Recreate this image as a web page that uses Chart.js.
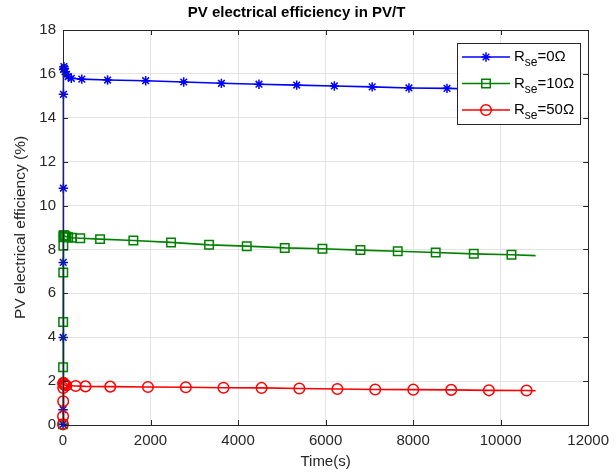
<!DOCTYPE html>
<html>
<head>
<meta charset="utf-8">
<script src="https://cdn.jsdelivr.net/npm/chart.js@4.4.0/dist/chart.umd.min.js"></script>
<style>
  html, body { margin: 0; padding: 0; background: #fff; }
</style>
</head>
<body>
<canvas id="myChart" width="616" height="472"></canvas>
<script>
// data (time in s, efficiency in %)
const blueTime = [0, 2, 4, 6, 8, 10, 14, 20, 30, 50, 80, 120, 190, 430, 1019, 1889, 2759, 3620, 4478, 5340, 6200, 7065, 7905, 8775, 10800];
const blueEff = [0.03, 0.70, 3.99, 7.41, 10.79, 15.07, 16.20, 16.33, 16.25, 16.10, 15.98, 15.88, 15.80, 15.76, 15.72, 15.69, 15.63, 15.57, 15.53, 15.49, 15.45, 15.41, 15.36, 15.34, 15.24];

const greenTime = [0, 2, 4, 6, 8, 10, 14, 20, 30, 50, 80, 120, 204, 394, 847, 1608, 2469, 3338, 4199, 5067, 5928, 6796, 7649, 8517, 9387, 10248, 10800];
const greenEff = [0.03, 2.63, 4.69, 6.95, 8.17, 8.59, 8.65, 8.64, 8.62, 8.60, 8.58, 8.56, 8.53, 8.51, 8.47, 8.41, 8.32, 8.21, 8.15, 8.07, 8.03, 7.97, 7.92, 7.86, 7.80, 7.76, 7.72];

const redTime = [0, 2, 4, 6, 8, 10, 14, 20, 30, 50, 75, 290, 514, 1080, 1941, 2806, 3668, 4538, 5400, 6270, 7134, 8004, 8871, 9733, 10593, 10800];
const redEff = [0.03, 0.40, 1.08, 1.69, 1.88, 1.92, 1.90, 1.87, 1.84, 1.82, 1.80, 1.78, 1.76, 1.75, 1.73, 1.72, 1.70, 1.69, 1.66, 1.64, 1.62, 1.61, 1.60, 1.58, 1.57, 1.56];

const seriesNames = ['0Ω', '10Ω', '50Ω'];
const xTicks = [0, 2000, 4000, 6000, 8000, 10000, 12000];
const yTicks = [0, 2, 4, 6, 8, 10, 12, 14, 16, 18];

const axisColor = '#262626';
const fontName = '"Liberation Sans", Arial, Helvetica, sans-serif';

function toPoints(times, values) {
  return times.map((t, i) => ({ x: t, y: values[i] }));
}
function radii(times, r) {
  // no marker on the last simulated point
  return times.map((t, i) => i === times.length - 1 ? 0 : r);
}

// small marker painter for the legend
function drawMarker(ctx, style, x, y, r, color) {
  ctx.save();
  ctx.strokeStyle = color;
  ctx.lineWidth = 1.5;
  ctx.beginPath();
  if (style === 'star') {
    ctx.moveTo(x - r, y); ctx.lineTo(x + r, y);
    ctx.moveTo(x, y - r); ctx.lineTo(x, y + r);
    const d = r * Math.SQRT1_2;
    ctx.moveTo(x - d, y - d); ctx.lineTo(x + d, y + d);
    ctx.moveTo(x - d, y + d); ctx.lineTo(x + d, y - d);
  } else if (style === 'rect') {
    const s = r * Math.SQRT1_2;
    ctx.rect(x - s, y - s, 2 * s, 2 * s);
  } else {
    ctx.arc(x, y, r, 0, Math.PI * 2);
  }
  ctx.stroke();
  ctx.restore();
}

// box, inward ticks and the matlab-like legend
const frameAndLegend = {
  id: 'frameAndLegend',
  afterDatasetsDraw(chart) {
    const ctx = chart.ctx;
    const { left, right, top, bottom } = chart.chartArea;
    const xs = chart.scales.x, ys = chart.scales.y;
    ctx.save();
    ctx.strokeStyle = axisColor;
    ctx.lineWidth = 1;
    ctx.beginPath();
    xTicks.forEach(v => {
      const px = Math.round(xs.getPixelForValue(v)) + 0.5;
      ctx.moveTo(px, bottom); ctx.lineTo(px, bottom - 5);
      ctx.moveTo(px, top); ctx.lineTo(px, top + 5);
    });
    yTicks.forEach(v => {
      const py = Math.round(ys.getPixelForValue(v)) + 0.5;
      ctx.moveTo(left, py); ctx.lineTo(left + 5, py);
      ctx.moveTo(right, py); ctx.lineTo(right - 5, py);
    });
    ctx.stroke();
    ctx.strokeRect(Math.round(left) + 0.5, Math.round(top) + 0.5, Math.round(right - left), Math.round(bottom - top));

    // legend
    const bx = 457, by = 43, bw = 123, bh = 81;
    ctx.fillStyle = '#fff';
    ctx.fillRect(bx, by, bw, bh);
    ctx.strokeRect(bx + 0.5, by + 0.5, bw, bh);
    chart.data.datasets.forEach((ds, i) => {
      const y = by + 14 + i * 26.5;
      ctx.strokeStyle = ds.borderColor;
      ctx.lineWidth = 1.5;
      ctx.beginPath();
      ctx.moveTo(462, y); ctx.lineTo(510, y);
      ctx.stroke();
      drawMarker(ctx, ds.pointStyle, 486, y, ds.pointStyle === 'star' ? 4.7 : (ds.pointStyle === 'rect' ? 6 : 5.3), ds.borderColor);
      ctx.fillStyle = '#000';
      ctx.textBaseline = 'middle';
      ctx.textAlign = 'left';
      ctx.font = '15px ' + fontName;
      ctx.fillText('R', 514, y);
      let x = 514 + ctx.measureText('R').width;
      ctx.font = '12px ' + fontName;
      ctx.fillText('se', x, y + 6);
      x += ctx.measureText('se').width;
      ctx.font = '15px ' + fontName;
      ctx.fillText('=' + seriesNames[i], x, y);
    });
    ctx.restore();
  }
};

const data = {
  datasets: [
    {
      label: 'Rse=' + seriesNames[0],
      data: toPoints(blueTime, blueEff),
      borderColor: '#0000ff',
      backgroundColor: 'transparent',
      pointStyle: 'star',
      pointRadius: radii(blueTime, 4.7),
      pointBorderWidth: 1.5,
      borderWidth: 1.6,
      order: 3
    },
    {
      label: 'Rse=' + seriesNames[1],
      data: toPoints(greenTime, greenEff),
      borderColor: '#008000',
      backgroundColor: 'transparent',
      pointStyle: 'rect',
      pointRadius: radii(greenTime, 6),
      pointBorderWidth: 1.5,
      borderWidth: 1.6,
      order: 2
    },
    {
      label: 'Rse=' + seriesNames[2],
      data: toPoints(redTime, redEff),
      borderColor: '#ff0000',
      backgroundColor: 'transparent',
      pointStyle: 'circle',
      pointRadius: radii(redTime, 5.3),
      pointBorderWidth: 1.5,
      borderWidth: 1.6,
      order: 1
    }
  ]
};

const config = {
  type: 'line',
  data,
  options: {
    responsive: false,
    animation: false,
    clip: false,
    layout: { padding: { left: 0, right: 23, top: 0, bottom: 0 } },
    plugins: {
      legend: { display: false },
      tooltip: { enabled: false },
      title: {
        display: true,
        text: 'PV electrical efficiency in PV/T',
        color: '#000',
        font: { family: fontName, size: 15, weight: 'bold' },
        padding: { top: 4, bottom: 8 }
      }
    },
    elements: { line: { tension: 0 } },
    scales: {
      x: {
        type: 'linear',
        min: 0,
        max: 12000,
        afterFit(scale) { scale.height = 47; },
        afterBuildTicks(scale) { scale.ticks = xTicks.map(v => ({ value: v })); },
        ticks: {
          color: axisColor,
          font: { family: fontName, size: 15 },
          padding: 7,
          maxRotation: 0,
          callback: v => String(v)
        },
        grid: { color: '#e3e3e3', drawTicks: false },
        border: { display: false },
        title: {
          display: true,
          text: 'Time(s)',
          color: axisColor,
          font: { family: fontName, size: 15 },
          padding: { top: 0, bottom: 1 }
        }
      },
      y: {
        min: 0,
        max: 18,
        afterFit(scale) { scale.width = 63; },
        afterBuildTicks(scale) { scale.ticks = yTicks.map(v => ({ value: v })); },
        ticks: {
          color: axisColor,
          font: { family: fontName, size: 15 },
          padding: 7,
          callback: v => String(v)
        },
        grid: { color: '#e3e3e3', drawTicks: false },
        border: { display: false },
        title: {
          display: true,
          text: 'PV electrical efficiency (%)',
          color: axisColor,
          font: { family: fontName, size: 15.5 },
          padding: { top: 11, bottom: 0 }
        }
      }
    }
  },
  plugins: [frameAndLegend]
};

const myChart = new Chart(document.getElementById('myChart'), config);
</script>
</body>
</html>
